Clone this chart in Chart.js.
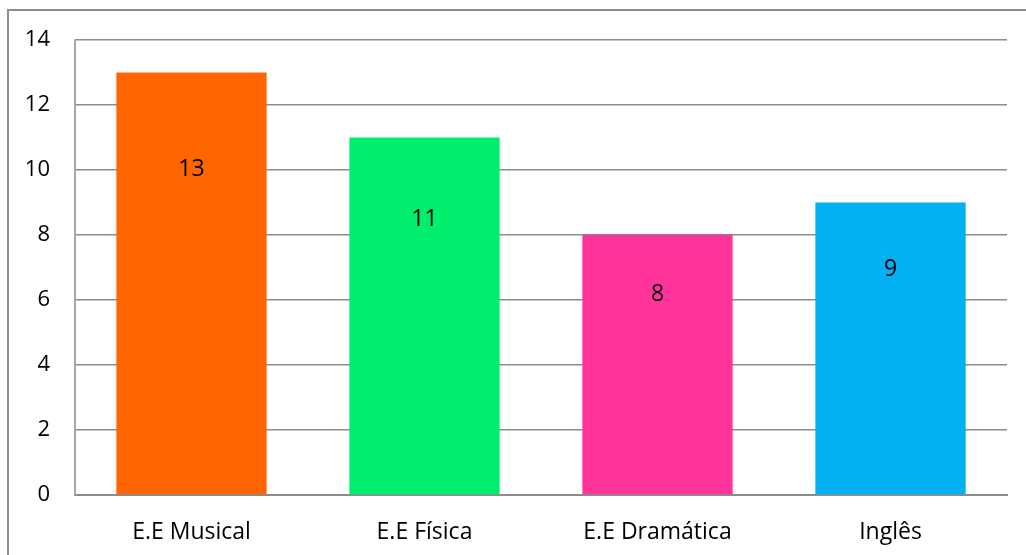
<!DOCTYPE html>
<html><head><meta charset="utf-8">
<script src="https://cdn.jsdelivr.net/npm/chart.js@4"></script>
<style>
html,body{margin:0;padding:0;background:#fff;overflow:hidden}
#wrap{position:relative;width:1026px;height:555px}
#frame{position:absolute;left:7px;top:9px;width:1030px;height:560px;border:2px solid #8c8c8c;box-sizing:border-box}
canvas{position:absolute;left:0;top:0}
</style></head><body>
<div id="wrap"><div id="frame"></div><canvas id="c" width="1026" height="555"></canvas></div>
<script>
const categories = ["E.E Musical","E.E Física","E.E Dramática","Inglês"];
const values = [13, 11, 8, 9];
const barColors = ["#FF6600","#00EE6E","#FF3399","#00B0F0"];
const yTicks = [0,2,4,6,8,10,12,14];

const FONT = "'Open Sans', sans-serif";

const labelPlugin = {
  id: 'inLabels',
  afterDatasetsDraw(chart){
    const ctx = chart.ctx;
    const meta = chart.getDatasetMeta(0);
    const ys = chart.scales.y;
    ctx.save();
    ctx.fillStyle = '#000';
    ctx.font = "23px " + FONT;
    ctx.textAlign = 'center';
    ctx.textBaseline = 'middle';
    meta.data.forEach((bar, i) => {
      const v = values[i];
      ctx.fillText(String(v), bar.x, ys.getPixelForValue(v * 0.77));
    });
    ctx.restore();
  }
};

new Chart(document.getElementById('c'), {
  type: 'bar',
  data: {
    labels: categories,
    datasets: [{
      data: values,
      backgroundColor: barColors,
      borderWidth: 0,
      barPercentage: 0.645,
      categoryPercentage: 1.0
    }]
  },
  options: {
    responsive: false,
    animation: false,
    layout: { padding: { left: 0, right: 19, top: 40, bottom: 0 } },
    plugins: { legend: { display: false }, tooltip: { enabled: false } },
    scales: {
      x: {
        grid: { display: false },
        border: { display: true, color: '#8c8c8c', width: 2 },
        ticks: { color: '#000', font: { family: FONT, size: 23 }, padding: 16, maxRotation: 0 },
        afterFit(s){ s.height = 60; }
      },
      y: {
        min: 0, max: 14,
        afterBuildTicks(s){ s.ticks = yTicks.map(v => ({ value: v })); },
        grid: { color: '#8c8c8c', lineWidth: 1.5, drawTicks: false },
        border: { display: true, color: '#a6a6a6', width: 2 },
        ticks: { color: '#000', font: { family: FONT, size: 22 }, padding: 25 },
        afterFit(s){ s.width = 75; }
      }
    }
  },
  plugins: [labelPlugin]
});
</script>
</body></html>
